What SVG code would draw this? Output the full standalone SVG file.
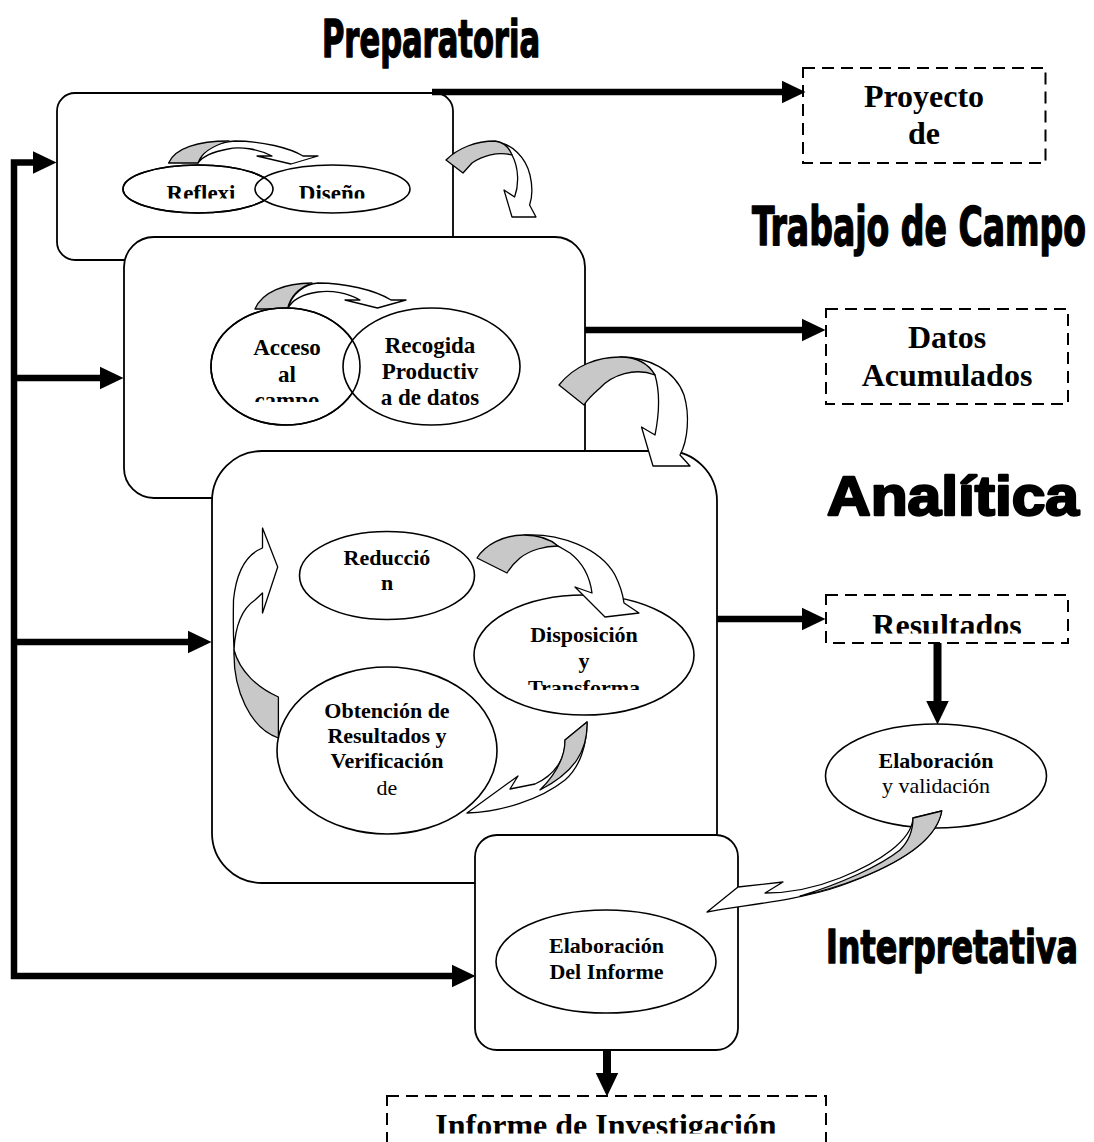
<svg xmlns="http://www.w3.org/2000/svg" width="1094" height="1142" viewBox="0 0 1094 1142">
  <defs>
    <style>
      .box{fill:#fff;stroke:#000;stroke-width:1.8}
      .ell{fill:#fff;stroke:#000;stroke-width:1.6}
      .rim{fill:none;stroke:#000;stroke-width:1.6}
      .out{fill:#fff;stroke:#000;stroke-width:2;stroke-dasharray:12 7}
      .wire{fill:none;stroke:#000;stroke-width:6.5;stroke-linejoin:miter}
      .wire-v{fill:none;stroke:#000;stroke-width:8}
      .shade{fill:#c8c8c8;stroke:#000;stroke-width:1.3;stroke-linejoin:round}
      .band{fill:#fff;stroke:#000;stroke-width:1.3;stroke-linejoin:round}
      .lbl{font-family:"Liberation Serif","Times New Roman",serif;font-weight:bold;text-anchor:middle;fill:#000}
      .reg{font-weight:normal}
      .s23{font-size:23px}
      .s22{font-size:22px}
      .s32{font-size:32px}
      .phase{font-family:"Liberation Sans Narrow","DejaVu Sans Condensed","Liberation Sans",sans-serif;font-weight:bold;fill:#000;stroke:#000;stroke-width:1.4;stroke-linejoin:round}
      .phase-wide{font-family:"Liberation Sans","DejaVu Sans",sans-serif;font-weight:900;fill:#000;stroke:#000;stroke-width:2.4;stroke-linejoin:round}
    </style>
    <marker id="ah" viewBox="0 0 24 24" refX="0.5" refY="12" markerWidth="24" markerHeight="24" markerUnits="userSpaceOnUse" orient="auto-start-reverse">
      <path d="M0,0.5 L24,12 L0,23.5 Z" fill="#000"/>
    </marker>
    <clipPath id="clip-refl"><rect x="100" y="150" width="350" height="48.5"/></clipPath>
    <clipPath id="clip-acc"><rect x="200" y="320" width="150" height="82"/></clipPath>
    <clipPath id="clip-disp"><rect x="470" y="600" width="230" height="90"/></clipPath>
    <clipPath id="clip-res"><rect x="826" y="596" width="242" height="37.5"/></clipPath>
    <clipPath id="clip-inf"><rect x="387" y="1096" width="439" height="37.5"/></clipPath>
  </defs>

  <!-- phase headings -->
  <g id="titles">
    <text class="phase" x="322" y="57" font-size="51" textLength="218" lengthAdjust="spacingAndGlyphs">Preparatoria</text>
    <text class="phase" x="752" y="245" font-size="53" textLength="334" lengthAdjust="spacingAndGlyphs">Trabajo de Campo</text>
    <text class="phase-wide" x="827" y="515" font-size="56" textLength="252" lengthAdjust="spacingAndGlyphs">Analítica</text>
    <text class="phase" x="826" y="963" font-size="47" textLength="252" lengthAdjust="spacingAndGlyphs">Interpretativa</text>
  </g>

  <!-- preparatory stage -->
  <g id="stage-preparatoria">
    <rect class="box" x="57" y="93" width="396" height="167" rx="18"/>
    <path class="band" d="M198,163 C204,148 218,142 235,141 C262,141 290,148 303,156 L318,156 L291,164 L257,156 L272,156 C258,149 240,146 228,149 C212,152 202,157 198,163 Z"/>
    <path class="shade" d="M168.6,163 C175,148 198,141 229,141 C212,146 201,153 198,163 Z"/>
    <ellipse class="ell" cx="198" cy="189" rx="75" ry="24"/>
    <ellipse class="ell" cx="332.5" cy="189" rx="77.5" ry="24"/>
    <ellipse class="rim" cx="198" cy="189" rx="75" ry="24"/>
    <g clip-path="url(#clip-refl)">
      <text class="lbl s23" x="201" y="201">Reflexi</text>
      <text class="lbl s23" x="332" y="201">Diseño</text>
    </g>
  </g>

  <!-- turn arrow towards field work -->
  <g id="turn-1">
    <path class="band" d="M495,142 C512,143 526,158 530,175 C533,188 532,198 529.6,205 L536,217 L512,217 L504,190 L514.6,197 C519,185 519,168 512,155 C508,148 502,144 495,142 Z"/>
    <path class="shade" d="M446,160 C458,148 476,141 495,141 C503,142 509,147 512,155 C498,151 482,156 472,163 L463,173 Z"/>
  </g>

  <!-- field work stage -->
  <g id="stage-campo">
    <rect class="box" x="124" y="237" width="461" height="261" rx="30"/>
    <path class="band" d="M287.5,309 C292,293 305,284 318,283 C345,283 375,290 391,300 L406,300 L377.5,308 L345,300 L360,300 C348,293 332,290 318,292 C303,294 292,300 287.5,309 Z"/>
    <path class="shade" d="M255,309 C262,292 285,283 312,283 C298,288 290,297 287.5,309 Z"/>
    <ellipse class="ell" cx="285.5" cy="366.5" rx="74.5" ry="58.5"/>
    <ellipse class="ell" cx="431.5" cy="366.5" rx="88.5" ry="58.5"/>
    <ellipse class="rim" cx="285.5" cy="366.5" rx="74.5" ry="58.5"/>
    <g clip-path="url(#clip-acc)">
      <text class="lbl s23" x="287" y="355">Acceso</text>
      <text class="lbl s23" x="287" y="381.5">al</text>
      <text class="lbl s23" x="287" y="408">campo</text>
    </g>
    <text class="lbl s23" x="430" y="353">Recogida</text>
    <text class="lbl s23" x="430" y="379">Productiv</text>
    <text class="lbl s23" x="430" y="405">a de datos</text>
  </g>

  <!-- analytic stage -->
  <g id="stage-analitica">
    <rect class="box" x="212" y="451" width="505" height="432" rx="50"/>
    <ellipse class="ell" cx="387" cy="575.5" rx="87.5" ry="44"/>
    <text class="lbl s22" x="387" y="565">Reducció</text>
    <text class="lbl s22" x="387" y="589.5">n</text>
    <ellipse class="ell" cx="584" cy="655" rx="110" ry="60"/>
    <g clip-path="url(#clip-disp)">
      <text class="lbl s22" x="584" y="642">Disposición</text>
      <text class="lbl s22" x="584" y="668">y</text>
      <text class="lbl s22" x="584" y="694.5">Transforma</text>
    </g>
    <ellipse class="ell" cx="387" cy="750.5" rx="110" ry="83.5"/>
    <text class="lbl s22" x="387" y="718">Obtención de</text>
    <text class="lbl s22" x="387" y="743">Resultados y</text>
    <text class="lbl s22" x="387" y="768">Verificación</text>
    <text class="lbl s22 reg" x="387" y="795">de</text>
    <!-- cycle arrows -->
    <path class="band" d="M524,535 C560,533 600,548 615,575 C620,585 623,595 624,603 L639,613 L605,617 L575,587 L592,593 C590,578 583,563 570,553 C555,543 540,538 524,535 Z"/>
    <path class="shade" d="M477,558 C485,545 503,535 524,535 C538,535 550,539 558,546 C545,546 530,550 520,558 C514,563 510,568 507,573 Z"/>
    <path class="band" d="M565,740 C566,758 555,775 535,784 L510,789 L518,776 L467,813 C500,812 540,800 565,780 C580,767 587,745 587,722 Z"/>
    <path class="shade" d="M565,740 L587,722 C588,750 575,772 540,790 C555,775 565,758 565,740 Z"/>
    <path class="band" d="M262.5,548 C245,555 236,575 233.5,600 C233,625 233.5,640 234,650 C235,630 240,610 255,600 L262.5,593 L262.5,613 L277.7,567 L262.5,528 Z"/>
    <path class="shade" d="M234,650 C233,690 250,728 278.4,738 L278.4,697 C258,688 240,672 234,650 Z"/>
  </g>

  <!-- turn arrow towards analysis -->
  <g id="turn-2">
    <path class="band" d="M620,357 C648,357 675,370 684,395 C690,415 688,440 680,455 L690,466 L653,466 L641.5,427 L655,435 C659,415 660,392 655,375 C645,362 632,358 620,357 Z"/>
    <path class="shade" d="M559,385 C575,365 598,357 620,357 C635,357 648,363 655,375 C635,367 612,375 600,388 C592,395 587,400 584,405 Z"/>
  </g>

  <!-- interpretative stage -->
  <g id="stage-interpretativa">
    <rect class="box" x="475" y="835" width="263" height="215" rx="22"/>
    <ellipse class="ell" cx="606" cy="961.5" rx="110" ry="51.5"/>
    <text class="lbl s22" x="606.5" y="953">Elaboración</text>
    <text class="lbl s22" x="606.5" y="979">Del Informe</text>
  </g>

  <!-- outputs -->
  <g id="out-proyecto">
    <rect class="out" x="803" y="68" width="242.5" height="95"/>
    <text class="lbl s32" x="924" y="107">Proyecto</text>
    <text class="lbl s32" x="924" y="144">de</text>
  </g>
  <g id="out-datos">
    <rect class="out" x="826" y="309" width="242" height="95"/>
    <text class="lbl s32" x="947" y="348">Datos</text>
    <text class="lbl s32" x="947" y="386">Acumulados</text>
  </g>
  <g id="out-resultados">
    <rect class="out" x="826" y="595" width="242" height="48"/>
    <text class="lbl s32" x="947" y="636" clip-path="url(#clip-res)">Resultados</text>
  </g>
  <g id="node-validacion">
    <ellipse class="ell" cx="936" cy="776" rx="110.5" ry="52"/>
    <text class="lbl s22" x="936" y="768">Elaboración</text>
    <text class="lbl s22 reg" x="936" y="793">y validación</text>
  </g>
  <g id="turn-3">
    <path class="band" d="M913,818 C912,840 880,862 840,878 C815,888 790,893 765,893 L783,882 L738,887 L707,912 C745,905 800,900 840,886 C890,868 935,845 941.7,811 Z"/>
    <path class="shade" d="M913,818 L941.7,811 C937,840 900,862 860,878 C835,888 815,893 800,896 C840,884 880,866 900,850 C910,840 913,830 913,818 Z"/>
  </g>
  <g id="out-informe">
    <rect class="out" x="387" y="1096" width="439" height="60"/>
    <text class="lbl s32" x="606" y="1136" clip-path="url(#clip-inf)">Informe de Investigación</text>
  </g>

  <!-- connectors -->
  <g id="connectors">
    <path class="wire" d="M33,162.5 H14 V976 H452" marker-start="url(#ah)" marker-end="url(#ah)"/>
    <path class="wire" d="M14,378 H100" marker-end="url(#ah)"/>
    <path class="wire" d="M14,642 H188" marker-end="url(#ah)"/>
    <path class="wire" d="M432,92 H782" marker-end="url(#ah)"/>
    <path class="wire" d="M585,330 H802" marker-end="url(#ah)"/>
    <path class="wire" d="M717,619 H802" marker-end="url(#ah)"/>
    <path class="wire-v" d="M937.5,643 V701" marker-end="url(#ah)"/>
    <path class="wire-v" d="M607,1050 V1073" marker-end="url(#ah)"/>
  </g>
</svg>
